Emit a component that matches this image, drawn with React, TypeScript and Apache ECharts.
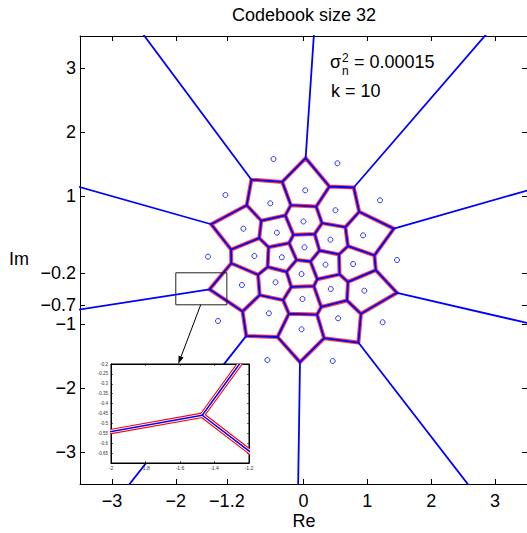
import React, { useEffect, useRef } from "react";
import * as echarts from "echarts";

// Codebook points (real / imaginary parts)
const CODE_RE = [
  -0.47, 0.531, -1.223, 0.027, 1.198, -0.52, 0.5, -0.942, 0.0, -0.417, 0.422,
  0.933, -1.495, -0.77, 0.016, -0.339, 1.464, 0.344, 0.777, -0.031, -0.964,
  -0.4375, 0.427, 0.953, -1.339, -0.542, -0.016, 0.542, 1.239, -0.031, -0.567,
  0.458,
];
const CODE_IM = [
  1.578, 1.511, 1.016, 1.089, 0.933, 0.886, 0.777, 0.489, 0.602, 0.427, 0.317,
  0.386, 0.052, 0.0625, 0.198, 0.042, 0.0, -0.073, -0.0625, -0.219, -0.391,
  -0.348, -0.453, -0.48, -0.953, -0.833, -0.609, -0.911, -0.973, -1.083,
  -1.5625, -1.578,
];

const X_TICKS = [-3, -2, -1.2, 0, 1, 2, 3];
const Y_TICKS = [-3, -2, -1, -0.7, -0.2, 1, 2, 3];
const ZOOM_RE = [-2, -1.2];
const ZOOM_IM = [-0.7, -0.2];
const INSET_X_TICKS = [-2, -1.8, -1.6, -1.4, -1.2];
const INSET_Y_TICKS = [-0.7, -0.65, -0.6, -0.55, -0.5, -0.45, -0.4, -0.35, -0.3, -0.25, -0.2];
const ARROW_RE = -1.61;

const TITLE = "Codebook size 32";
const NOISE_VAR = "0.00015";
const K_VALUE = "10";

const FONT = "'Liberation Sans', Arial, Helvetica, sans-serif";

type Pt = { x: number; y: number; l: number };

function voronoiEdges(xs: number[], ys: number[], B: number) {
  const n = xs.length;
  const finite: number[][][] = [];
  const rays: number[][][] = [];
  const onBox = (p: Pt) =>
    Math.abs(Math.abs(p.x) - B) < 1e-6 || Math.abs(Math.abs(p.y) - B) < 1e-6;
  for (let i = 0; i < n; i++) {
    let poly: Pt[] = [
      { x: -B, y: -B, l: -1 },
      { x: B, y: -B, l: -1 },
      { x: B, y: B, l: -1 },
      { x: -B, y: B, l: -1 },
    ];
    for (let j = 0; j < n; j++) {
      if (j === i) continue;
      const ax = xs[j] - xs[i];
      const ay = ys[j] - ys[i];
      const c = (xs[j] * xs[j] + ys[j] * ys[j] - xs[i] * xs[i] - ys[i] * ys[i]) / 2;
      const f = (p: Pt) => ax * p.x + ay * p.y - c;
      const out: Pt[] = [];
      const m = poly.length;
      for (let k = 0; k < m; k++) {
        const a = poly[k];
        const b = poly[(k + 1) % m];
        const fa = f(a);
        const fb = f(b);
        if (fa <= 0) {
          out.push({ x: a.x, y: a.y, l: a.l });
          if (fb > 0) {
            const t = fa / (fa - fb);
            out.push({ x: a.x + t * (b.x - a.x), y: a.y + t * (b.y - a.y), l: j });
          }
        } else if (fb <= 0) {
          const t = fa / (fa - fb);
          out.push({ x: a.x + t * (b.x - a.x), y: a.y + t * (b.y - a.y), l: a.l });
        }
      }
      poly = out;
      if (poly.length === 0) break;
    }
    const m = poly.length;
    for (let k = 0; k < m; k++) {
      const a = poly[k];
      const b = poly[(k + 1) % m];
      if (a.l > i) {
        if (Math.hypot(a.x - b.x, a.y - b.y) < 1e-9) continue;
        const seg = [
          [a.x, a.y],
          [b.x, b.y],
        ];
        if (onBox(a) || onBox(b)) rays.push(seg);
        else finite.push(seg);
      }
    }
  }
  return { finite, rays };
}

function toLineData(segs: number[][][]) {
  const d: any[] = [];
  segs.forEach((s) => {
    d.push(s[0], s[1], null);
  });
  return d;
}

const minusFmt = (v: number) => String(v).replace("-", "\u2212");

function insetSeries(segData: number[][], color: string, width: number, z: number) {
  return {
    type: "custom",
    xAxisIndex: 2,
    yAxisIndex: 2,
    clip: true,
    z,
    silent: true,
    lineStyle: { width: 0.001 },
    encode: { x: [0, 2], y: [1, 3] },
    data: segData,
    renderItem: (_params: any, api: any) => {
      const a = api.coord([api.value(0), api.value(1)]);
      const b = api.coord([api.value(2), api.value(3)]);
      return {
        type: "line",
        shape: { x1: a[0], y1: a[1], x2: b[0], y2: b[1] },
        style: { stroke: color, lineWidth: width, lineCap: "round", lineJoin: "round", fill: null },
      };
    },
  };
}

export default function App() {
  const ref = useRef<HTMLDivElement>(null);
  useEffect(() => {
    if (!ref.current) return;
    const chart = echarts.init(ref.current, null, { renderer: "svg" });
    const { finite, rays } = voronoiEdges(CODE_RE, CODE_IM, 20);
    const finiteData = toLineData(finite);
    const allSegs = finite.concat(rays);
    const allData = toLineData(allSegs);
    const segFlat = allSegs.map((s) => [s[0][0], s[0][1], s[1][0], s[1][1]]);
    const points = CODE_RE.map((x, i) => [x, CODE_IM[i]]);
    const boxData = [
      [ZOOM_RE[0], ZOOM_IM[1]],
      [ZOOM_RE[1], ZOOM_IM[1]],
      [ZOOM_RE[1], ZOOM_IM[0]],
      [ZOOM_RE[0], ZOOM_IM[0]],
      [ZOOM_RE[0], ZOOM_IM[1]],
    ];

    const mainAxisCommon = {
      type: "value",
      min: -3.5,
      max: 3.5,
      gridIndex: 0,
      splitLine: { show: false },
      axisLine: { show: true, onZero: false, lineStyle: { color: "#000", width: 1 } },
    };
    const insetAxisCommon = {
      type: "value",
      gridIndex: 1,
      z: 11,
      splitLine: { show: false },
      axisLine: { show: true, onZero: false, lineStyle: { color: "#000", width: 1 } },
    };

    const option: any = {
      animation: false,
      backgroundColor: "#fff",
      grid: [
        { left: 80, top: 36, width: 448, height: 448, show: false },
        {
          left: 111,
          top: 364,
          width: 138,
          height: 99,
          show: true,
          backgroundColor: "#fff",
          borderColor: "#000",
          borderWidth: 1,
          z: 10,
        },
      ],
      xAxis: [
        {
          ...mainAxisCommon,
          position: "bottom",
          axisTick: { show: true, inside: true, length: 5, customValues: X_TICKS, lineStyle: { color: "#000" } },
          axisLabel: {
            show: true,
            customValues: X_TICKS,
            margin: 8,
            color: "#000",
            fontSize: 18,
            fontFamily: FONT,
            formatter: minusFmt,
          },
        },
        {
          ...mainAxisCommon,
          position: "top",
          axisTick: { show: true, inside: true, length: 5, customValues: X_TICKS, lineStyle: { color: "#000" } },
          axisLabel: { show: false },
        },
        {
          ...insetAxisCommon,
          min: ZOOM_RE[0],
          max: ZOOM_RE[1],
          position: "bottom",
          axisTick: { show: true, inside: true, length: 2, customValues: INSET_X_TICKS, lineStyle: { color: "#000", width: 0.6 } },
          axisLabel: {
            show: true,
            customValues: INSET_X_TICKS,
            margin: 2,
            color: "#333",
            fontSize: 5,
            fontFamily: FONT,
          },
        },
        {
          ...insetAxisCommon,
          min: ZOOM_RE[0],
          max: ZOOM_RE[1],
          position: "top",
          axisTick: { show: true, inside: true, length: 2, customValues: INSET_X_TICKS, lineStyle: { color: "#000", width: 0.6 } },
          axisLabel: { show: false },
        },
      ],
      yAxis: [
        {
          ...mainAxisCommon,
          position: "left",
          axisTick: { show: true, inside: true, length: 5, customValues: Y_TICKS, lineStyle: { color: "#000" } },
          axisLabel: {
            show: true,
            customValues: Y_TICKS,
            margin: 4,
            color: "#000",
            fontSize: 18,
            fontFamily: FONT,
            formatter: minusFmt,
          },
        },
        {
          ...mainAxisCommon,
          position: "right",
          axisTick: { show: true, inside: true, length: 5, customValues: Y_TICKS, lineStyle: { color: "#000" } },
          axisLabel: { show: false },
        },
        {
          ...insetAxisCommon,
          min: ZOOM_IM[0],
          max: ZOOM_IM[1],
          position: "left",
          axisTick: { show: true, inside: true, length: 2, customValues: INSET_Y_TICKS, lineStyle: { color: "#000", width: 0.6 } },
          axisLabel: {
            show: true,
            customValues: INSET_Y_TICKS.slice(1),
            margin: 3,
            color: "#333",
            fontSize: 4.5,
            fontFamily: FONT,
          },
        },
        {
          ...insetAxisCommon,
          min: ZOOM_IM[0],
          max: ZOOM_IM[1],
          position: "right",
          axisTick: { show: true, inside: true, length: 2, customValues: INSET_Y_TICKS, lineStyle: { color: "#000", width: 0.6 } },
          axisLabel: { show: false },
        },
      ],
      series: [
        {
          type: "line",
          xAxisIndex: 0,
          yAxisIndex: 0,
          data: finiteData,
          symbol: "none",
          connectNulls: false,
          clip: true,
          z: 2,
          lineStyle: { color: "#ff0000", width: 4, opacity: 0.75, cap: "round", join: "round" },
          silent: true,
        },
        {
          type: "line",
          xAxisIndex: 0,
          yAxisIndex: 0,
          data: allData,
          symbol: "none",
          connectNulls: false,
          clip: true,
          z: 3,
          lineStyle: { color: "#0000ff", width: 1.8, cap: "round", join: "round" },
          silent: true,
        },
        {
          type: "line",
          xAxisIndex: 0,
          yAxisIndex: 0,
          data: boxData,
          symbol: "none",
          z: 4,
          lineStyle: { color: "#222", width: 1 },
          silent: true,
        },
        {
          type: "scatter",
          xAxisIndex: 0,
          yAxisIndex: 0,
          data: points,
          symbol: "circle",
          symbolSize: 5,
          z: 5,
          itemStyle: { color: "rgba(0,0,0,0)", borderColor: "#0000ff", borderWidth: 1 },
          silent: true,
        },
        insetSeries(segFlat, "#ff0000", 5.5, 12),
        insetSeries(segFlat, "#ffffff", 3.3, 13),
        insetSeries(segFlat, "#0000ff", 1.5, 14),
      ],
    };
    chart.setOption(option);

    const p0 = chart.convertToPixel({ xAxisIndex: 0, yAxisIndex: 0 } as any, [ARROW_RE, ZOOM_IM[0]]) as number[];
    const p1 = chart.convertToPixel({ xAxisIndex: 2, yAxisIndex: 2 } as any, [ARROW_RE, ZOOM_IM[1]]) as number[];
    const dx = p1[0] - p0[0];
    const dy = p1[1] - p0[1];
    const len = Math.hypot(dx, dy) || 1;
    const ux = dx / len;
    const uy = dy / len;
    const hl = 8;
    const hw = 2.6;
    const bx = p1[0] - ux * hl;
    const by = p1[1] - uy * hl;

    const textStyle = (t: string, size: number, align = "left") => ({
      text: t,
      fontSize: size,
      fontFamily: FONT,
      fill: "#000",
      align,
      verticalAlign: "middle",
    });

    chart.setOption({
      graphic: [
        { type: "text", x: 304, y: 15, z: 20, style: textStyle(TITLE, 18, "center") },
        { type: "text", x: 330, y: 62, z: 20, style: textStyle("σ", 18) },
        { type: "text", x: 342, y: 57.5, z: 20, style: textStyle("2", 12) },
        { type: "text", x: 342, y: 70.5, z: 20, style: textStyle("n", 12) },
        { type: "text", x: 354, y: 62, z: 20, style: textStyle("= " + NOISE_VAR, 18) },
        { type: "text", x: 331, y: 91, z: 20, style: textStyle("k = " + K_VALUE, 18) },
        { type: "text", x: 19, y: 259, z: 20, style: textStyle("Im", 18, "center") },
        { type: "text", x: 304, y: 521, z: 20, style: textStyle("Re", 18, "center") },
        {
          type: "line",
          z: 20,
          shape: { x1: p0[0], y1: p0[1], x2: bx, y2: by },
          style: { stroke: "#000", lineWidth: 1 },
        },
        {
          type: "polygon",
          z: 20,
          shape: {
            points: [
              [p1[0], p1[1]],
              [bx - uy * hw, by + ux * hw],
              [bx + uy * hw, by - ux * hw],
            ],
          },
          style: { fill: "#000" },
        },
      ],
    });

    return () => chart.dispose();
  }, []);
  return (
    <div
      ref={ref}
      style={{ position: "fixed", left: 0, top: 0, width: 527, height: 533, background: "#fff" }}
    />
  );
}
